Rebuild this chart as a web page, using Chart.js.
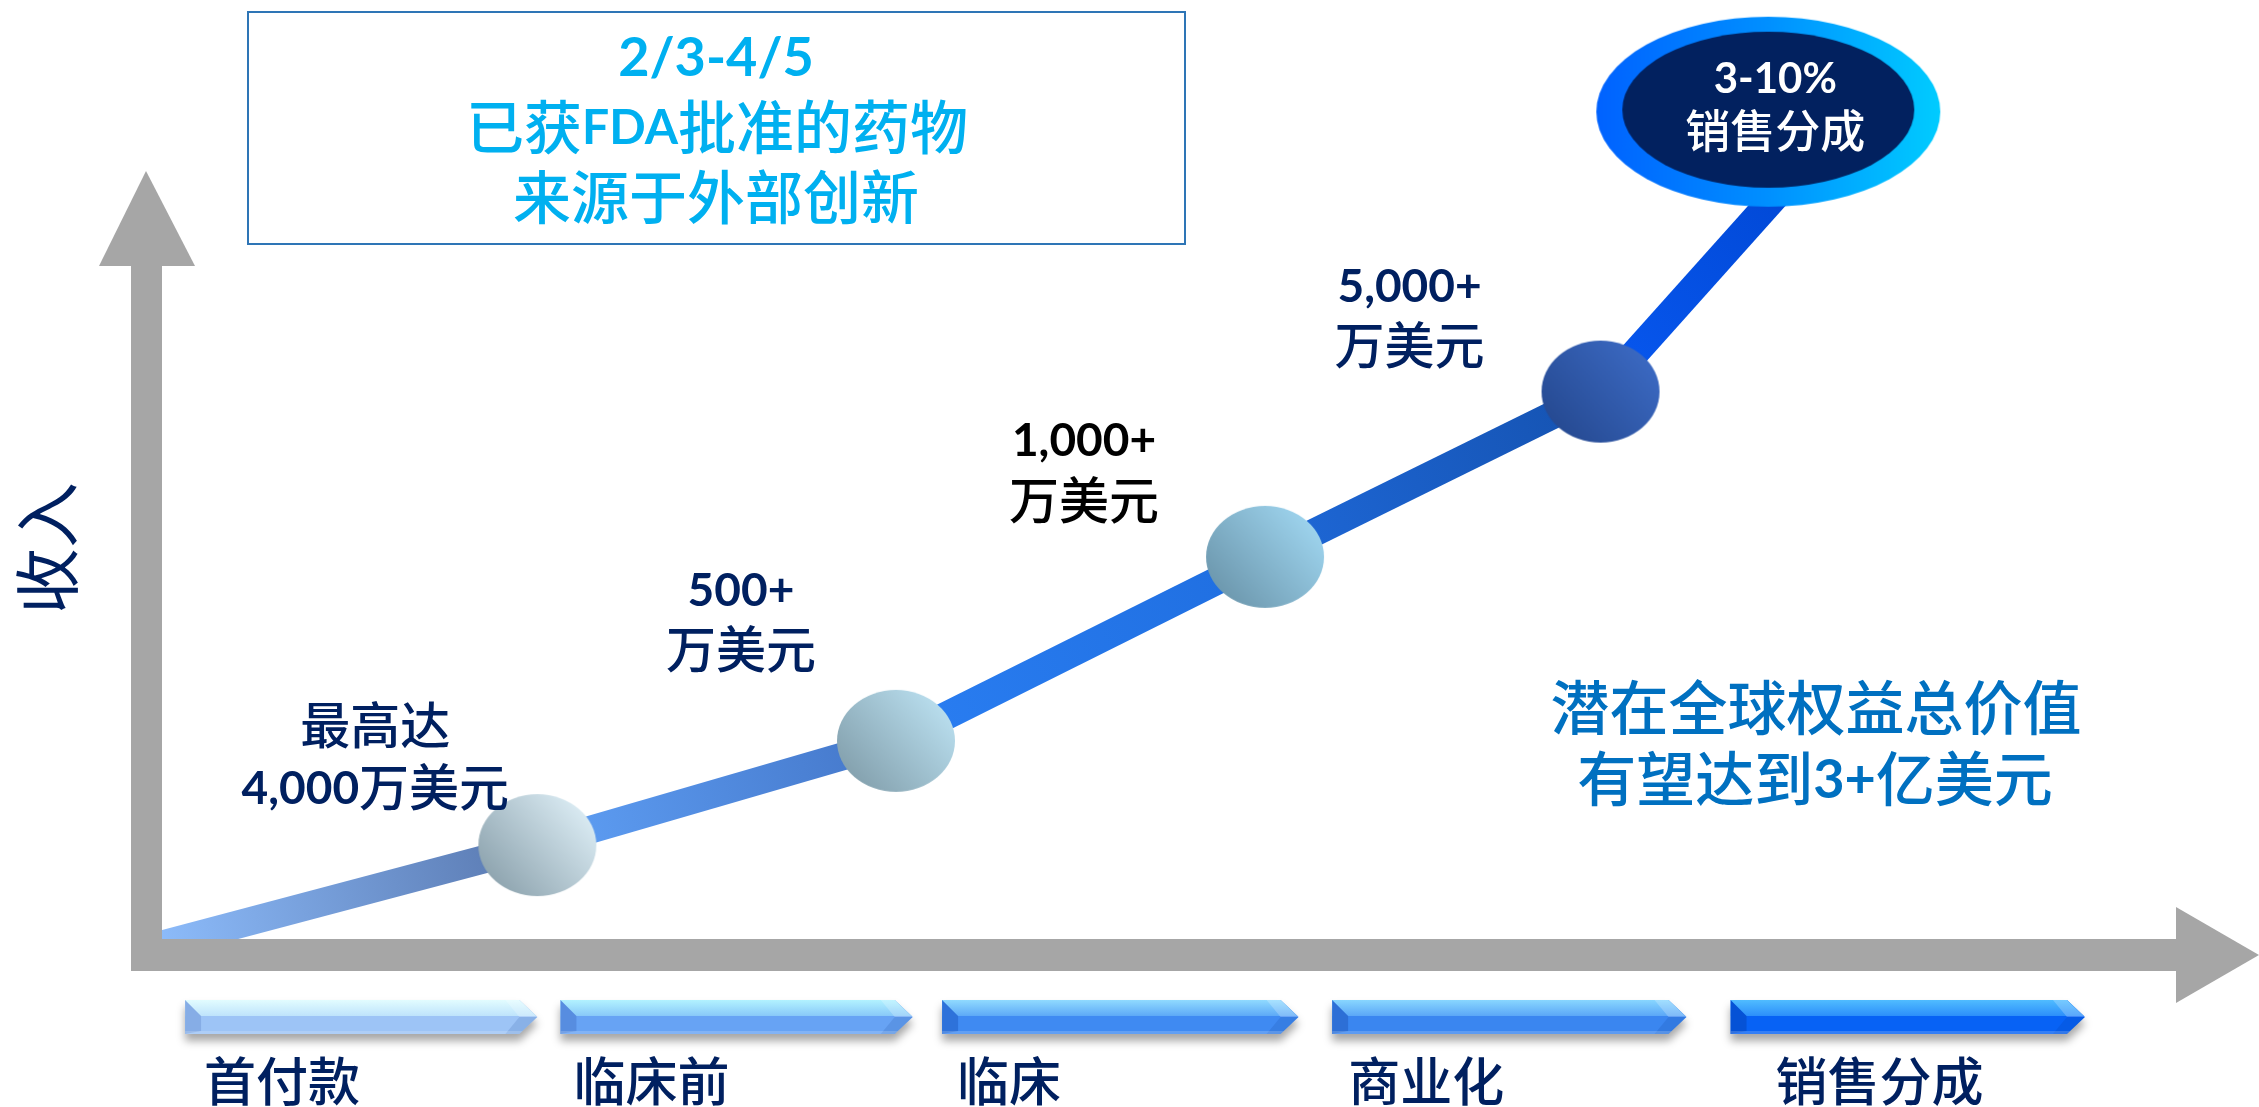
<!DOCTYPE html>
<html><head><meta charset="utf-8">
<style>html,body{margin:0;padding:0;background:#fff;overflow:hidden}canvas{display:block}</style>
<script src="https://cdn.jsdelivr.net/npm/chart.js@4.4.1/dist/chart.umd.min.js"></script>
</head><body>
<canvas id="c" width="2259" height="1107" style="width:2259px;height:1107px"></canvas>
<script>
// ---------- DATA ----------
const stages = ['首付款', '临床前', '临床', '商业化', '销售分成'];
const stageStart = [1.1, 19.0, 37.2, 55.8, 74.8];
const stageEnd = [17.9, 35.8, 54.2, 72.7, 91.7];
const pathX = [0, 17.9, 35.0, 52.6, 68.6, 78.9];
const pathY = [-0.6, 10.0, 21.1, 40.7, 58.3, 84.0];
const milestoneLabels = [null, ['最高达', '4,000万美元'], ['500+', '万美元'], ['1,000+', '万美元'], ['5,000+', '万美元'], null];
const royaltyX = [76.6];
const royaltyY = [88.1];
const royaltyLabel = ['3-10%', '销售分成'];
const boxLines = ['2/3-4/5', '已获FDA批准的药物', '来源于外部创新'];
const noteLines = ['潜在全球权益总价值', '有望达到3+亿美元'];
const axisTitle = '收入';

// ---------- STYLE ----------
const CJK = '"Noto Sans CJK SC","Noto Sans CJK TC",sans-serif';
const LAT = 'Lato,"Open Sans",sans-serif';
const NAVY = '#002060';
const segColors = [['#8CBBFA', '#5877AE'], ['#5FA0F6', '#4476C8'], ['#2A7EF2', '#1F6EE0'], ['#1E68D8', '#1552B0'], ['#0858F0', '#0046D2']];
const ballColors = [null, ['#DAEBF3', '#8EA4AF'], ['#B9DEEE', '#84A1AE'], ['#9ED4EE', '#6D98AE'], ['#3B69C2', '#264A92'], null];
const labelStyle = [null,
  {dx: -162, dy: [-120, -58], color: NAVY},
  {dx: -155, dy: [-151, -92], color: NAVY},
  {dx: -181, dy: [-117, -57], color: '#000000'},
  {dx: -191, dy: [-106, -47], color: NAVY}, null];
const barColors = [
  {t0: '#E2FCFF', t1: '#BCE2FB', b: '#9DC4F6', bev: '#86ADE6'},
  {t0: '#B2F2FF', t1: '#86C6F8', b: '#67A3F4', bev: '#578DE0'},
  {t0: '#90DAFF', t1: '#5AA6F6', b: '#3F8AF2', bev: '#2E72DA'},
  {t0: '#88D6FF', t1: '#58A4F6', b: '#3A86F0', bev: '#2D6FD6'},
  {t0: '#50BCFF', t1: '#2A8CFA', b: '#0762F5', bev: '#0552D6'}];
const stageLabelInset = [19, 13, 15, 16, 45];

const canvas = document.getElementById('c');
const g2d = canvas.getContext('2d');

function drawText(ctx, text, x, cy, o) {
  const runs = [];
  for (const ch of text) {
    const latin = ch.charCodeAt(0) < 128;
    const size = latin ? (o.lsize || o.size) : o.size;
    const font = latin ? `${o.lweight || 'bold'} ${size}px ${LAT}` : `${o.cweight || 'normal'} ${size}px ${CJK}`;
    const last = runs[runs.length - 1];
    if (last && last.font === font) last.t += ch; else runs.push({t: ch, font, size, latin});
  }
  let total = 0;
  for (const r of runs) { ctx.font = r.font; r.w = ctx.measureText(r.t).width; total += r.w; }
  let cx = o.align === 'left' ? x : x - total / 2;
  ctx.textAlign = 'left'; ctx.textBaseline = 'alphabetic'; ctx.fillStyle = o.color;
  for (const r of runs) { ctx.font = r.font; ctx.fillText(r.t, cx, cy + (r.latin ? 0.36 : 0.38) * r.size); cx += r.w; }
  return total;
}

function makeBall(rx, ry, light, dark) {
  const c = document.createElement('canvas');
  c.width = rx * 2 + 2; c.height = ry * 2 + 2;
  const x = c.getContext('2d');
  const cx = c.width / 2, cy = c.height / 2;
  const g = x.createLinearGradient(cx - rx * 0.75, cy + ry * 0.75, cx + rx * 0.75, cy - ry * 0.75);
  g.addColorStop(0, dark); g.addColorStop(1, light);
  x.fillStyle = g;
  x.beginPath(); x.ellipse(cx, cy, rx, ry, 0, 0, Math.PI * 2); x.fill();
  return c;
}
function makeBubble() {
  const rx = 172, ry = 95;
  const c = document.createElement('canvas');
  c.width = rx * 2 + 2; c.height = ry * 2 + 2;
  const x = c.getContext('2d');
  const cx = c.width / 2, cy = c.height / 2;
  const g = x.createLinearGradient(cx - rx, 0, cx + rx, 0);
  g.addColorStop(0, '#0062FF'); g.addColorStop(0.5, '#0090FF'); g.addColorStop(1, '#00CCFF');
  x.fillStyle = g;
  x.beginPath(); x.ellipse(cx, cy, rx, ry, 0, 0, Math.PI * 2); x.fill();
  x.fillStyle = '#02215F';
  x.beginPath(); x.ellipse(cx, cy - 2, 146, 78, 0, 0, Math.PI * 2); x.fill();
  return c;
}

function drawStageBar(ctx, x0, x1, y0, h, col) {
  const tip = 18, mid = y0 + h / 2, y1 = y0 + h, bev = 16;
  const body = () => { ctx.beginPath(); ctx.moveTo(x0, y0); ctx.lineTo(x1 - tip, y0); ctx.lineTo(x1, mid); ctx.lineTo(x1 - tip, y1); ctx.lineTo(x0, y1); ctx.closePath(); };
  ctx.save();
  ctx.shadowColor = 'rgba(0,0,0,0.35)'; ctx.shadowBlur = 9; ctx.shadowOffsetY = 7;
  body(); ctx.fillStyle = col.b; ctx.fill();
  ctx.restore();
  ctx.save();
  body(); ctx.clip();
  const g = ctx.createLinearGradient(0, y0, 0, mid);
  g.addColorStop(0, col.t0); g.addColorStop(1, col.t1);
  ctx.fillStyle = g;
  ctx.fillRect(x0, y0, x1 - x0, h * 0.47);
  ctx.fillStyle = col.bev;
  ctx.beginPath(); ctx.moveTo(x0, y0); ctx.lineTo(x0 + bev, y0 + h * 0.47); ctx.lineTo(x0 + bev, y1 - 3); ctx.lineTo(x0, y1); ctx.closePath(); ctx.fill();
  ctx.fillStyle = 'rgba(255,255,255,0.22)';
  ctx.beginPath(); ctx.moveTo(x1 - tip - 14, y0); ctx.lineTo(x1 - tip, y0); ctx.lineTo(x1, mid); ctx.lineTo(x1 - tip, mid); ctx.closePath(); ctx.fill();
  ctx.fillStyle = 'rgba(0,40,120,0.12)';
  ctx.beginPath(); ctx.moveTo(x1 - tip, mid); ctx.lineTo(x1, mid); ctx.lineTo(x1 - tip, y1); ctx.lineTo(x1 - tip - 14, y1); ctx.closePath(); ctx.fill();
  ctx.fillStyle = 'rgba(255,255,255,0.18)';
  ctx.fillRect(x0, y1 - 3, x1 - x0, 3);
  ctx.restore();
}

const balls = ballColors.map(c => c ? makeBall(59, 51, c[0], c[1]) : null);
const bubble = makeBubble();

const decor = {
  id: 'decor',
  beforeDraw(chart) {
    const ctx = chart.ctx;
    ctx.save();
    ctx.fillStyle = '#ffffff'; ctx.fillRect(0, 0, chart.width, chart.height);
    ctx.restore();
  },
  beforeDatasetsDraw(chart) {
    const ctx = chart.ctx, a = chart.chartArea, xs = chart.scales.x;
    ctx.save();
    ctx.strokeStyle = '#2E75B6'; ctx.lineWidth = 2;
    ctx.strokeRect(248, 12, 937, 232);
    drawText(ctx, boxLines[0], 716, 57, {size: 54, lsize: 54, color: '#00B0F0'});
    drawText(ctx, boxLines[1], 717, 127, {size: 58, lsize: 48, color: '#00B0F0', cweight: '500'});
    drawText(ctx, boxLines[2], 716, 197, {size: 58, color: '#00B0F0', cweight: '500'});
    ctx.save(); ctx.translate(47, 548); ctx.rotate(-Math.PI / 2);
    drawText(ctx, axisTitle, 0, 0, {size: 66, color: NAVY});
    ctx.restore();
    drawText(ctx, noteLines[0], 1816, 708, {size: 59, color: '#0070C0', cweight: '500'});
    drawText(ctx, noteLines[1], 1815, 779, {size: 59, lsize: 54, color: '#0070C0', cweight: '500'});
    const top = a.bottom + 61;
    stages.forEach((s, i) => {
      const x0 = xs.getPixelForValue(stageStart[i]), x1 = xs.getPixelForValue(stageEnd[i]);
      drawStageBar(ctx, x0, x1, top, 34, barColors[i]);
      drawText(ctx, s, x0 + stageLabelInset[i], a.bottom + 142, {size: 52, color: NAVY, align: 'left', cweight: '500'});
    });
    ctx.restore();
  },
  afterDatasetsDraw(chart) {
    const ctx = chart.ctx, a = chart.chartArea;
    ctx.save();
    ctx.fillStyle = '#A6A6A6';
    ctx.fillRect(a.left - 31, 266, 31, a.bottom + 32 - 266);
    ctx.beginPath(); ctx.moveTo(a.left - 16, 171); ctx.lineTo(a.left + 33, 266); ctx.lineTo(a.left - 63, 266); ctx.closePath(); ctx.fill();
    ctx.fillRect(a.left - 31, a.bottom, 2176 - (a.left - 31), 32);
    ctx.beginPath(); ctx.moveTo(2176, a.bottom - 32); ctx.lineTo(a.right, a.bottom + 16); ctx.lineTo(2176, a.bottom + 64); ctx.closePath(); ctx.fill();
    const pts = chart.getDatasetMeta(1).data;
    milestoneLabels.forEach((lines, i) => {
      if (!lines) return;
      const st = labelStyle[i], p = pts[i];
      lines.forEach((t, k) => drawText(ctx, t, p.x + st.dx, p.y + st.dy[k], {size: 50, lsize: 46, color: st.color, cweight: '500'}));
    });
    const b = chart.getDatasetMeta(0).data[0];
    drawText(ctx, royaltyLabel[0], b.x + 7, b.y - 34, {size: 42, lsize: 42, color: '#ffffff'});
    drawText(ctx, royaltyLabel[1], b.x + 7, b.y + 19, {size: 45, color: '#ffffff', cweight: '500'});
    ctx.restore();
  }
};

function build() {
  new Chart(canvas, {
    type: 'line',
    data: {
      datasets: [
        {
          label: royaltyLabel[1],
          data: royaltyX.map((x, i) => ({x, y: royaltyY[i]})),
          showLine: false, pointStyle: bubble, pointRadius: 90, order: 0, clip: false
        },
        {
          label: axisTitle,
          data: pathX.map((x, i) => ({x, y: pathY[i]})),
          borderWidth: 28, borderCapStyle: 'butt', borderJoinStyle: 'round', tension: 0, fill: false, clip: false,
          borderColor: '#2A7EF2',
          pointStyle: balls.map(b => b || 'circle'),
          pointRadius: balls.map(b => b ? 50 : 0),
          order: 1,
          segment: {
            borderColor: (c) => {
              const i = c.p0DataIndex;
              const g = g2d.createLinearGradient(c.p0.x, c.p0.y, c.p1.x, c.p1.y);
              g.addColorStop(0, segColors[i][0]); g.addColorStop(1, segColors[i][1]);
              return g;
            }
          }
        }
      ]
    },
    options: {
      responsive: false, devicePixelRatio: 1, animation: false, events: [],
      layout: {autoPadding: false, padding: {left: 162, right: 0, top: 0, bottom: 168}},
      scales: {
        x: {type: 'linear', min: 0, max: 100, display: false},
        y: {type: 'linear', min: 0, max: 100, display: false}
      },
      plugins: {legend: {display: false}, tooltip: {enabled: false}}
    },
    plugins: [decor]
  });
}
Promise.all([
  document.fonts.load('bold 40px Lato'),
  document.fonts.load('50px "Noto Sans CJK SC"'),
  document.fonts.load('500 50px "Noto Sans CJK SC"')
]).then(build, build);
</script></body></html>
